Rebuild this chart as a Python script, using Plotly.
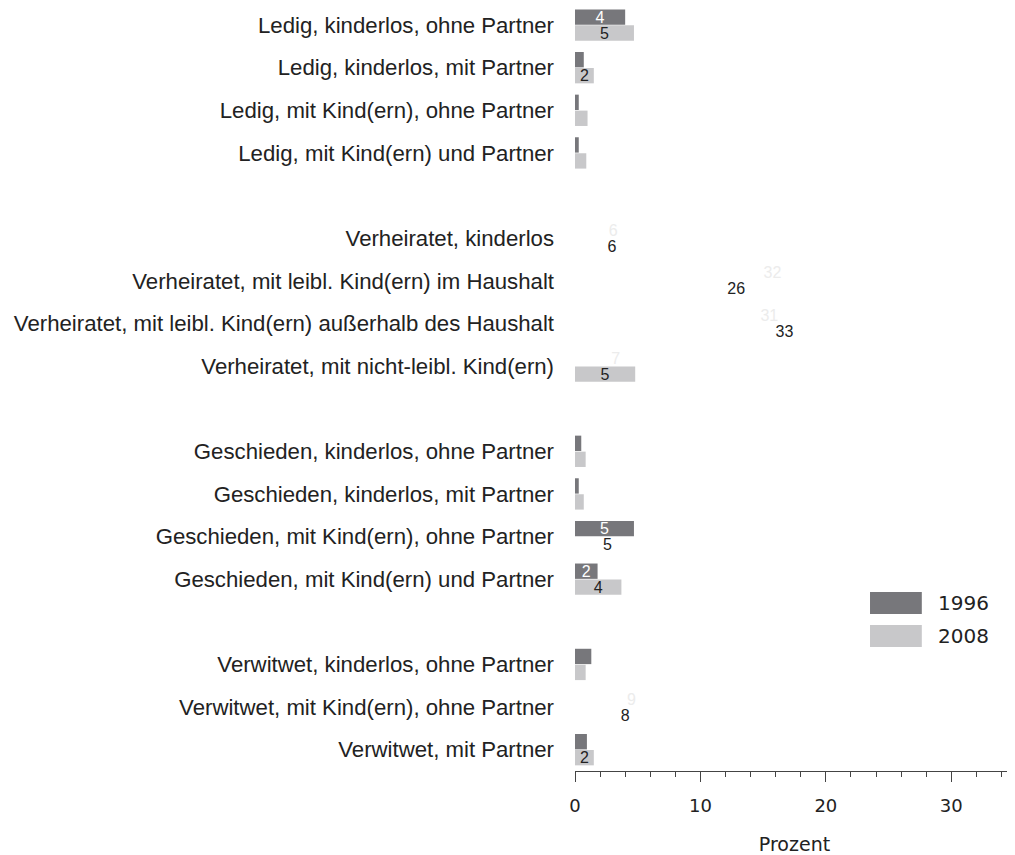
import plotly.graph_objects as go

# Kategorien (von oben nach unten), Leerzeilen trennen die Gruppen
categories = [
    "Ledig, kinderlos, ohne Partner",
    "Ledig, kinderlos, mit Partner",
    "Ledig, mit Kind(ern), ohne Partner",
    "Ledig, mit Kind(ern) und Partner",
    "Verheiratet, kinderlos",
    "Verheiratet, mit leibl. Kind(ern) im Haushalt",
    "Verheiratet, mit leibl. Kind(ern) außerhalb des Haushalt",
    "Verheiratet, mit nicht-leibl. Kind(ern)",
    "Geschieden, kinderlos, ohne Partner",
    "Geschieden, kinderlos, mit Partner",
    "Geschieden, mit Kind(ern), ohne Partner",
    "Geschieden, mit Kind(ern) und Partner",
    "Verwitwet, kinderlos, ohne Partner",
    "Verwitwet, mit Kind(ern), ohne Partner",
    "Verwitwet, mit Partner",
]
values_1996 = [4.0, 0.7, 0.3, 0.3, 6.1, 31.5, 31.0, 6.5, 0.5, 0.3, 4.7, 1.8, 1.3, 9.0, 0.95]
values_2008 = [4.7, 1.5, 1.0, 0.9, 5.9, 25.7, 33.4, 4.8, 0.85, 0.7, 5.2, 3.7, 0.85, 8.0, 1.5]
series_names = ["1996", "2008"]

# Achsenreihenfolge mit Abstandszeilen zwischen den Gruppen
category_order = categories[:4] + [" "] + categories[4:8] + ["  "] + categories[8:12] + ["   "] + categories[12:]

dark = "#77777b"
light = "#c8c8ca"
text_dark = "#222222"
label_font = "Liberation Sans, Arial"
axis_font = "DejaVu Sans"


def labels(vals):
    return [str(int(v + 0.5)) if v >= 1.4 else "" for v in vals]


def bar_colors(vals, base):
    # Balken über 5 % erscheinen in der Vorlage nicht
    return [base if v <= 5 else "white" for v in vals]


fig = go.Figure()
fig.add_trace(go.Bar(
    y=categories, x=values_1996, orientation="h", name=series_names[0],
    marker=dict(color=bar_colors(values_1996, dark), line=dict(width=0)),
    text=labels(values_1996), textposition="inside", insidetextanchor="middle",
    textangle=0, cliponaxis=False,
    textfont=dict(family=label_font, size=16,
                  color=["white" if v <= 5 else "#ececec" for v in values_1996]),
))
fig.add_trace(go.Bar(
    y=categories, x=values_2008, orientation="h", name=series_names[1],
    marker=dict(color=bar_colors(values_2008, light), line=dict(width=0)),
    text=labels(values_2008), textposition="inside", insidetextanchor="middle",
    textangle=0, cliponaxis=False,
    textfont=dict(family=label_font, size=16, color=text_dark),
))

n = len(category_order)
top = -0.4

fig.update_layout(
    width=1007, height=847,
    margin=dict(l=567, r=1, t=0, b=84),
    paper_bgcolor="white", plot_bgcolor="white",
    barmode="group", bargap=0.25, bargroupgap=0.04,
    showlegend=False,
    uniformtext=dict(minsize=16, mode="show"),
    xaxis=dict(
        range=[0, 35], dtick=10, tick0=0,
        showgrid=False, zeroline=False,
        showline=True, linecolor="#444", linewidth=1,
        ticks="outside", ticklen=10, tickcolor="#444",
        minor=dict(dtick=2, ticks="outside", ticklen=5, tickcolor="#444", showgrid=False),
        tickfont=dict(family=axis_font, size=18, color=text_dark),
        ticklabelstandoff=8,
        title=dict(text="Prozent", standoff=23,
                   font=dict(family=axis_font, size=19, color=text_dark)),
    ),
    yaxis=dict(
        type="category", categoryorder="array", categoryarray=category_order,
        range=[n - 0.5, top], automargin=False,
        showgrid=False, zeroline=False, showline=False, ticks="",
        ticklabelstandoff=20,
        tickfont=dict(family=label_font, size=22.2, color=text_dark),
    ),
)

# Legende als Flächen + Text
legend_items = [(series_names[0], dark, 0.2346, 0.2058), (series_names[1], light, 0.1913, 0.1625)]
for name, col, y1, y0 in legend_items:
    fig.add_shape(type="rect", xref="paper", yref="paper",
                  x0=0.672, x1=0.790, y0=y0, y1=y1,
                  fillcolor=col, line=dict(width=0))
    fig.add_annotation(xref="paper", yref="paper", x=0.822, y=(y0 + y1) / 2,
                       text=name, showarrow=False, xanchor="left", yanchor="middle",
                       font=dict(family=axis_font, size=20, color=text_dark))

fig.write_html("out.html")
